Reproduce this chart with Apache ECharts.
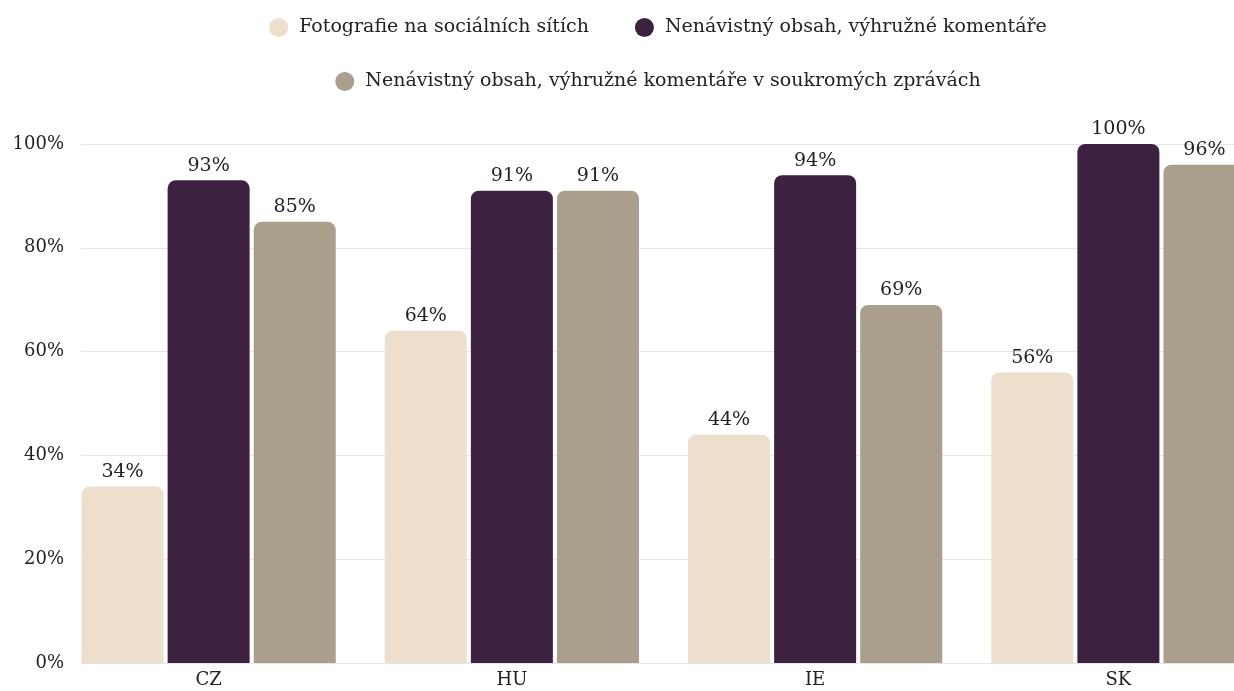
<!DOCTYPE html>
<html>
<head>
<meta charset="utf-8">
<script src="https://cdn.jsdelivr.net/npm/echarts@6/dist/echarts.min.js"></script>
<style>
html,body{margin:0;padding:0;overflow:hidden;background:#fff;}
#c{width:1316px;height:691px;}
</style>
</head>
<body>
<div id="c"></div>
<script>
const categories = ['CZ', 'HU', 'IE', 'SK'];
const seriesNames = [
  'Fotografie na sociálních sítích',
  'Nenávistný obsah, výhružné komentáře',
  'Nenávistný obsah, výhružné komentáře v soukromých zprávách'
];
const photos = [34, 64, 44, 56];
const hateComments = [93, 91, 94, 100];
const hatePrivate = [85, 91, 69, 96];
const yTicks = [0, 20, 40, 60, 80, 100];
const colors = ['#EEDFCC', '#3C2240', '#AA9F8D'];

const FONT = 'DejaVu Serif';
const chart = echarts.init(document.getElementById('c'));
const dataSets = [photos, hateComments, hatePrivate];

chart.setOption({
  animation: false,
  textStyle: { fontFamily: FONT },
  color: colors,
  legend: [
    {
      data: [seriesNames[0], seriesNames[1]],
      top: 13, left: 'center',
      icon: 'circle', itemWidth: 19, itemHeight: 19, itemGap: 46,
      textStyle: { fontFamily: FONT, fontSize: 19, color: '#222', padding: [0,0,0,6] }
    },
    {
      data: [seriesNames[2]],
      top: 67, left: 'center',
      icon: 'circle', itemWidth: 19, itemHeight: 19,
      textStyle: { fontFamily: FONT, fontSize: 19, color: '#222', padding: [0,0,0,6] }
    }
  ],
  grid: [
    { left: 81, right: 0, top: 144, bottom: 28 },
    { left: 57, right: 46, top: 144, bottom: 28 }
  ],
  xAxis: [
    { gridIndex: 0, type: 'value', show: false },
    {
      gridIndex: 1, type: 'category', data: categories,
      axisLine: { show: false }, axisTick: { show: false },
      axisLabel: { fontFamily: FONT, fontSize: 18, color: '#222', margin: 8 }
    }
  ],
  yAxis: [
    {
      gridIndex: 0, type: 'value', min: 0, max: 100, interval: 20,
      axisLabel: { fontFamily: FONT, fontSize: 18, color: '#222', margin: 17,
        formatter: v => yTicks.includes(v) ? v + '%' : '' },
      splitLine: { lineStyle: { color: '#e6e6e6', width: 1 } },
      axisLine: { show: false }, axisTick: { show: false }
    },
    { gridIndex: 1, type: 'value', min: 0, max: 100, show: false }
  ],
  series: dataSets.map((d, i) => ({
    name: seriesNames[i],
    type: 'bar',
    xAxisIndex: 1, yAxisIndex: 1,
    data: d,
    barWidth: 82,
    barGap: '5%',
    itemStyle: { color: colors[i], borderRadius: [8, 8, 0, 0] },
    label: {
      show: true, position: 'top', distance: 5,
      fontFamily: FONT, fontSize: 19, color: '#222',
      formatter: '{c}%'
    }
  }))
});
</script>
</body>
</html>
